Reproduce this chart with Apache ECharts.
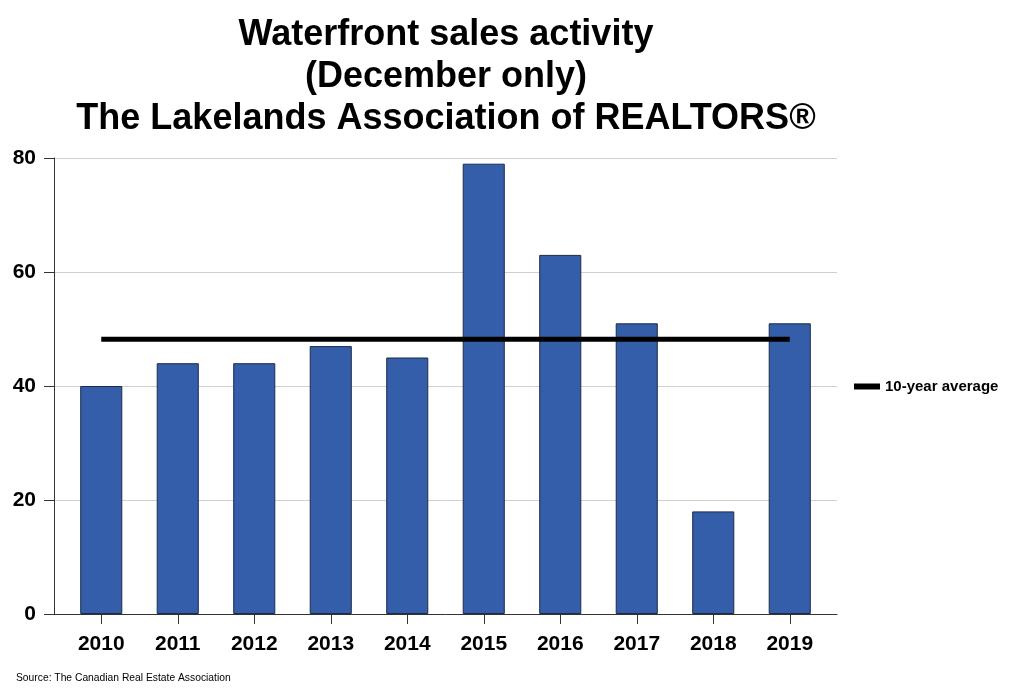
<!DOCTYPE html>
<html><head><meta charset="utf-8">
<script src="https://cdn.jsdelivr.net/npm/echarts@6/dist/echarts.min.js"></script>
<style>html,body{margin:0;padding:0;background:#fff}#c{width:1016px;height:690px}</style>
</head><body><div id="c"></div>
<script>
const categories = ['2010','2011','2012','2013','2014','2015','2016','2017','2018','2019'];
const sales = [40,44,44,47,45,79,63,51,18,51];
const tenYearAverage = 48.2;
const yTicks = [0,20,40,60,80];
const titleLines = ['Waterfront sales activity','(December only)','The Lakelands Association of REALTORS®'];
const sourceText = 'Source: The Canadian Real Estate Association';

const avgData = categories.map(() => tenYearAverage);
const F = 'Liberation Sans, Arial, sans-serif';
const chart = echarts.init(document.getElementById('c'));
chart.setOption({
  animation: false,
  backgroundColor: '#fff',
  title: [{
    text: titleLines.join('\n'),
    left: 446, top: 14, textAlign: 'center', padding: 0,
    textStyle: {fontFamily: F, fontSize: 36, fontWeight: 'bold', color: '#000', lineHeight: 42}
  }, {
    text: sourceText, left: 16, top: 673, padding: 0,
    textStyle: {fontFamily: F, fontSize: 10.3, fontWeight: 'normal', color: '#000'}
  }],
  legend: {
    data: [{name: '10-year average', icon: 'rect'}],
    left: 849, top: 374, itemWidth: 26, itemHeight: 6, itemGap: 6,
    textStyle: {fontFamily: F, fontSize: 15, fontWeight: 'bold', color: '#000'}
  },
  grid: [
    {left: 54, right: 1016-837, top: 158, bottom: 690-614, containLabel: false},
    {left: 63, right: 1016-828, top: 158, bottom: 690-614, containLabel: false}
  ],
  xAxis: [{
    gridIndex: 0, type: 'category', data: categories,
    axisLine: {show: true, lineStyle: {color: '#333', width: 1}},
    axisTick: {show: false}, axisLabel: {show: false}, splitLine: {show: false}
  }, {
    gridIndex: 1, type: 'category', data: categories,
    axisLine: {show: false},
    axisTick: {show: true, alignWithLabel: true, length: 10, lineStyle: {color: '#333'}},
    axisLabel: {fontFamily: F, fontSize: 21, fontWeight: 'bold', color: '#000', margin: 20}
  }],
  yAxis: [{
    gridIndex: 0, type: 'value', min: 0, max: 80, interval: 20,
    axisLine: {show: true, lineStyle: {color: '#333', width: 1}},
    axisTick: {show: true, length: 10, lineStyle: {color: '#333'}},
    axisLabel: {fontFamily: F, fontSize: 21, fontWeight: 'bold', color: '#000', margin: 18,
      formatter: v => yTicks.includes(v) ? String(v) : ''},
    splitLine: {show: true, lineStyle: {color: '#d0d0d0', width: 1}}
  }, {
    gridIndex: 1, type: 'value', min: 0, max: 80, interval: 20, show: false,
    splitLine: {show: false}
  }],
  series: [{
    name: 'Sales', type: 'bar', xAxisIndex: 1, yAxisIndex: 1, data: sales,
    barWidth: '55%',
    itemStyle: {color: '#345ea9', borderColor: '#1c2b47', borderWidth: 1}
  }, {
    name: '10-year average', type: 'line', xAxisIndex: 1, yAxisIndex: 1, data: avgData,
    symbol: 'none', lineStyle: {color: '#000', width: 5}, itemStyle: {color: '#000'}, z: 5
  }]
});
</script></body></html>
